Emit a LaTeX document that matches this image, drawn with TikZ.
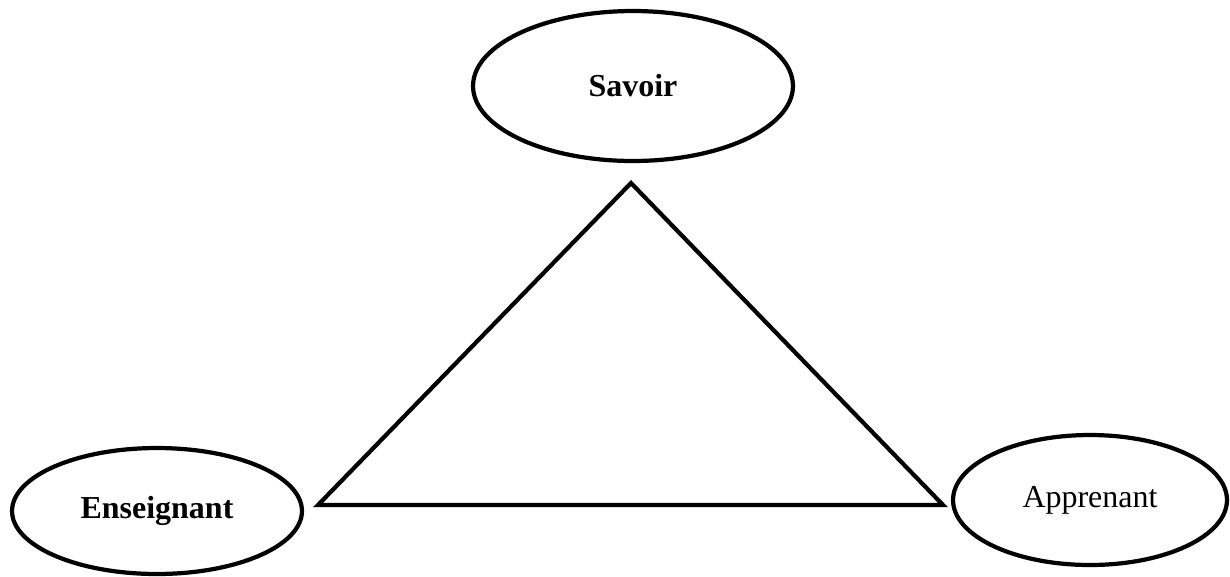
\documentclass[tikz,border=0pt]{standalone}
\usepackage{fontspec}
\setmainfont{Liberation Serif}
\usetikzlibrary{shapes.geometric}
\tikzset{
  pole/.style={draw,ellipse,line width=2.4pt,inner sep=0pt,
    font=\fontsize{18.2}{21}\selectfont},
}

\begin{document}
\begin{tikzpicture}[x=0.02cm,y=-0.02cm]
\useasboundingbox (0,0) rectangle (1230,576);

\node[pole,minimum width=6.4cm,minimum height=3cm] (savoir) at (633,86) {\textbf{Savoir}};
\node[pole,minimum width=5.8cm,minimum height=2.52cm] (enseignant) at (157,511) {\textbf{Enseignant}};
\node[pole,minimum width=5.48cm,minimum height=2.6cm] (apprenant) at (1090,500) {Apprenant};

\coordinate (top) at (631,183);
\coordinate (left) at (318,505);
\coordinate (right) at (943,505);
\draw[line width=2.4pt] (top) -- (right) -- (left) -- cycle;

\end{tikzpicture}
\end{document}
